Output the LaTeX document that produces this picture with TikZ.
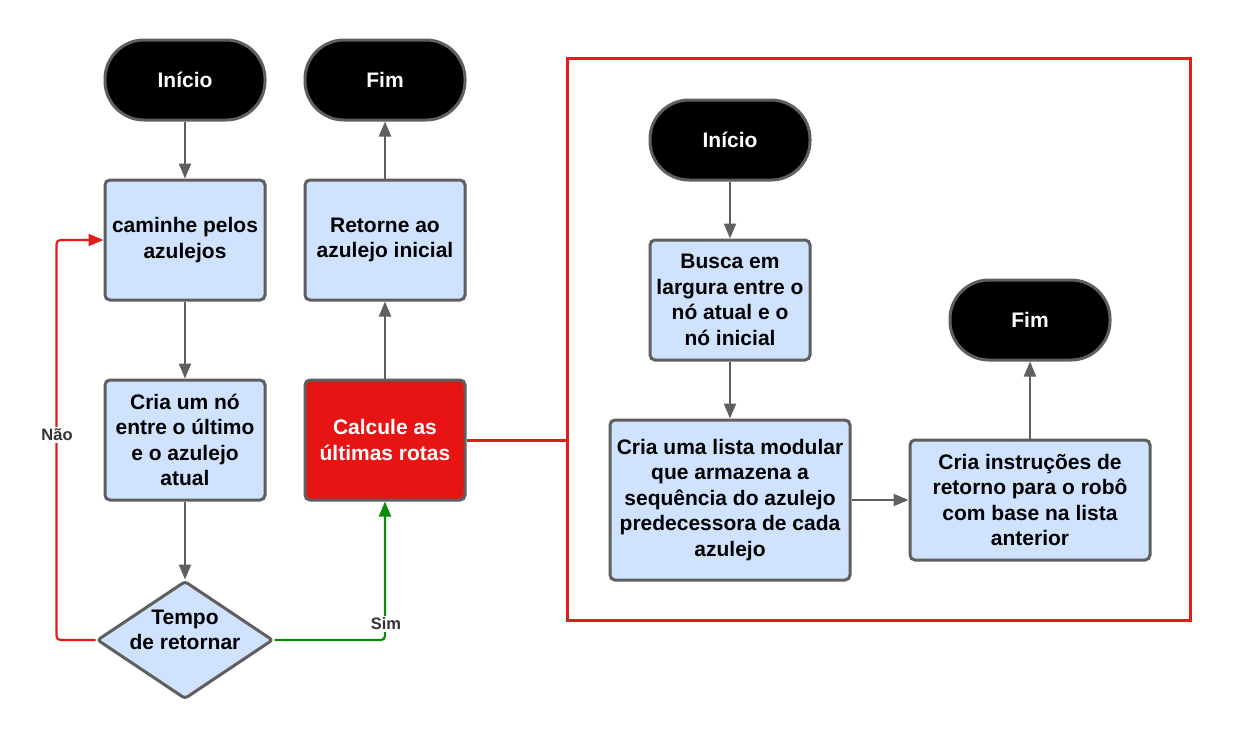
\documentclass[tikz,border=0pt]{standalone}
\usepackage{fontspec}
\setmainfont{Liberation Sans}
\usetikzlibrary{arrows.meta,shapes.geometric}
\definecolor{boxblue}{HTML}{CFE3FF}
\definecolor{edgegray}{HTML}{5F5F5F}
\definecolor{calcred}{HTML}{E81414}
\definecolor{simgreen}{HTML}{0B8A0B}
\definecolor{naored}{HTML}{E41B1B}
\definecolor{labelgray}{HTML}{333333}
\begin{document}
\begin{tikzpicture}[x=1pt,y=-1pt,
    txt/.style={font=\fontsize{21}{25.5}\selectfont\bfseries, align=center},
    terminal/.style={txt, draw=edgegray, line width=3pt, fill=black, text=white,
        rounded corners=39pt, minimum width=160pt, minimum height=80pt},
    process/.style={txt, draw=edgegray, line width=3pt, fill=boxblue,
        rounded corners=5pt, minimum width=160pt, minimum height=120pt, inner sep=2pt},
    decision/.style={diamond, draw=edgegray, line width=3pt, fill=boxblue,
        rounded corners=3pt, minimum width=176pt, minimum height=118pt, inner sep=0pt},
    flow/.style={draw=edgegray, line width=2.2pt, -{Triangle[length=15pt,width=12pt]}},
    yesflow/.style={flow, draw=simgreen, rounded corners=4pt},
    noflow/.style={flow, draw=naored, rounded corners=4pt},
    answer/.style={font=\fontsize{16.5}{20}\selectfont\bfseries, text=labelgray,
        fill=white, inner sep=1.5pt}]
    \fill[white](0,0)rectangle(1233,740);
    \useasboundingbox(0,0)rectangle(1233,740);
    % main loop
    \node[terminal](inicio)at(185,80){Início};
    \node[terminal](fim)at(385,80){Fim};
    \node[process](caminhe)at(185,240){caminhe pelos\\azulejos};
    \node[process](retorne)at(385,240){Retorne ao\\azulejo inicial};
    \node[process](cria)at(185,440){Cria um nó\\entre o último\\e o azulejo\\atual};
    \node[process, fill=calcred, text=white](calcule)at(385,440){Calcule as\\últimas rotas};
    \node[decision](tempo)at(185,640){};
    \node[txt]at(185,630){Tempo\\de retornar};
    \draw[flow](inicio)--(caminhe);
    \draw[flow](caminhe)--(cria);
    \draw[flow](cria)--(tempo);
    \draw[flow](calcule)--(retorne);
    \draw[flow](retorne)--(fim);
    \draw[yesflow](tempo.east)-|(calcule.south);
    \node[answer]at(386,624){Sim};
    \draw[noflow](tempo.west)--++(-39,0)|-(caminhe.west);
    \node[answer]at(57,435){Não};
    % detail of the route calculation
    \node[draw=naored, line width=3pt, minimum width=623pt, minimum height=562pt](detalhe)at(878.5,339){};
    \draw[draw=naored, line width=3pt](calcule.east)--(calcule.east-|detalhe.west);
    \node[terminal](inicio2)at(730,140){Início};
    \node[process](busca)at(730,300){Busca em\\largura entre o\\nó atual e o\\nó inicial};
    \node[process, minimum width=240pt, minimum height=160pt](lista)at(730,500){Cria uma lista modular\\que armazena a\\sequência do azulejo\\predecessora de cada\\azulejo};
    \node[process, minimum width=240pt](instrucoes)at(1030,500){Cria instruções de\\retorno para o robô\\com base na lista\\anterior};
    \node[terminal](fim2)at(1030,320){Fim};
    \draw[flow](inicio2)--(busca);
    \draw[flow](busca)--(lista);
    \draw[flow](lista)--(instrucoes);
    \draw[flow](instrucoes)--(fim2);
\end{tikzpicture}
\end{document}
